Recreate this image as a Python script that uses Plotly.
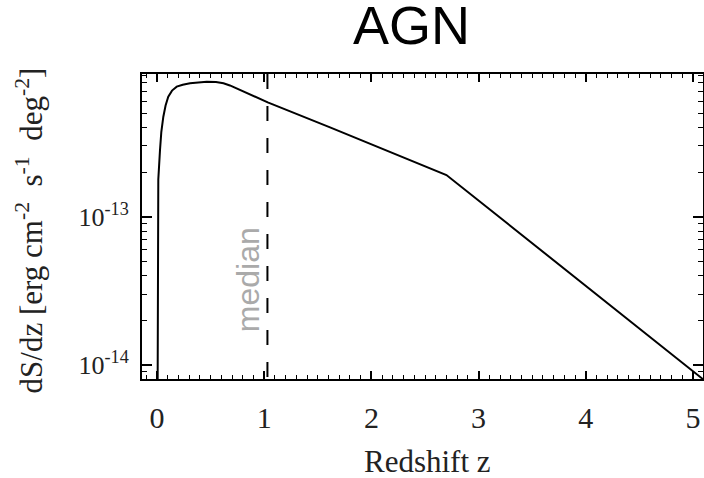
import plotly.graph_objects as go

# dS/dz for the AGN population as a function of redshift
redshift = [0.002, 0.006, 0.012, 0.028, 0.04, 0.059, 0.08, 0.105, 0.14, 0.184,
            0.24, 0.308, 0.38, 0.464, 0.55, 0.62, 0.68, 0.75, 0.837, 0.93,
            1.033, 1.614, 2.70, 5.15]
dsdz = [1.0e-15, 3.0e-14, 1.78e-13, 2.82e-13, 3.72e-13, 4.72e-13, 5.62e-13,
        6.44e-13, 7.08e-13, 7.53e-13, 7.76e-13, 7.94e-13, 8.07e-13, 8.13e-13,
        8.09e-13, 7.94e-13, 7.67e-13, 7.28e-13, 6.79e-13, 6.34e-13, 5.90e-13,
        4.00e-13, 1.91e-13, 7.45e-15]

median_z = 1.03

x_ticks = [0, 1, 2, 3, 4, 5]
y_ticks = [1e-14, 1e-13]
y_ticktext = ["10<sup>-14</sup>", "10<sup>-13</sup>"]
y_minor = [m * 1e-15 for m in range(8, 10)] + [m * 1e-14 for m in range(2, 10)] + \
          [m * 1e-13 for m in range(2, 10)]

serif = "Liberation Serif"
sans = "Liberation Sans"

fig = go.Figure()
fig.add_trace(go.Scatter(x=redshift, y=dsdz, mode="lines",
                         line=dict(color="black", width=2), showlegend=False))

fig.add_shape(type="line", xref="x", yref="paper", x0=median_z, x1=median_z,
              y0=1, y1=0, line=dict(color="black", width=2, dash="15px,17px"))

fig.update_layout(
    width=704, height=478,
    margin=dict(l=142, r=1, t=74, b=99, autoexpand=False),
    paper_bgcolor="white", plot_bgcolor="white",
    showlegend=False,
    title=dict(text="AGN", xref="paper", x=0.4804, xanchor="center",
               yref="container", y=0.9874, yanchor="top", pad=dict(t=0, b=0),
               font=dict(family=sans, size=54, color="black")),
)

fig.update_xaxes(
    range=[-0.14, 5.093], tickvals=x_ticks, ticktext=[str(v) for v in x_ticks],
    ticks="inside", ticklen=8, tickwidth=1.5, tickcolor="black",
    minor=dict(dtick=0.1, ticks="inside", ticklen=4, tickwidth=1.2, tickcolor="black"),
    showline=True, linecolor="black", linewidth=2, mirror="allticks",
    showgrid=False, zeroline=False, automargin=False,
    tickfont=dict(family=serif, size=30, color="#222"),
    ticklabelstandoff=11,
)
fig.update_yaxes(
    type="log", range=[-14.094, -12.038], tickvals=y_ticks, ticktext=y_ticktext,
    ticks="inside", ticklen=10, tickwidth=1.5, tickcolor="black",
    minor=dict(tickvals=y_minor, ticks="inside", ticklen=5, tickwidth=1.2, tickcolor="black"),
    showline=True, linecolor="black", linewidth=2, mirror="allticks",
    showgrid=False, zeroline=False, automargin=False,
    tickfont=dict(family=serif, size=26, color="#222"),
    ticklabelstandoff=6,
)

fig.add_annotation(text="Redshift z", xref="paper", yref="paper", x=0.509, y=-0.272,
                   xanchor="center", yanchor="middle", showarrow=False,
                   font=dict(family=serif, size=31, color="#222"))
fig.add_annotation(text="dS/dz [erg cm<sup>-2</sup>  s<sup>-1</sup>  deg<sup>-2</sup>]",
                   xref="paper", yref="paper", x=-0.201, y=0.488, textangle=-90,
                   xanchor="center", yanchor="middle", showarrow=False,
                   font=dict(family=serif, size=31, color="#222"))
fig.add_annotation(text="median", xref="x", yref="y", x=0.85, y=-13.427, textangle=-90,
                   xanchor="center", yanchor="middle", showarrow=False,
                   font=dict(family=sans, size=32, color="#aaaaaa"))

fig.write_html("out.html")
